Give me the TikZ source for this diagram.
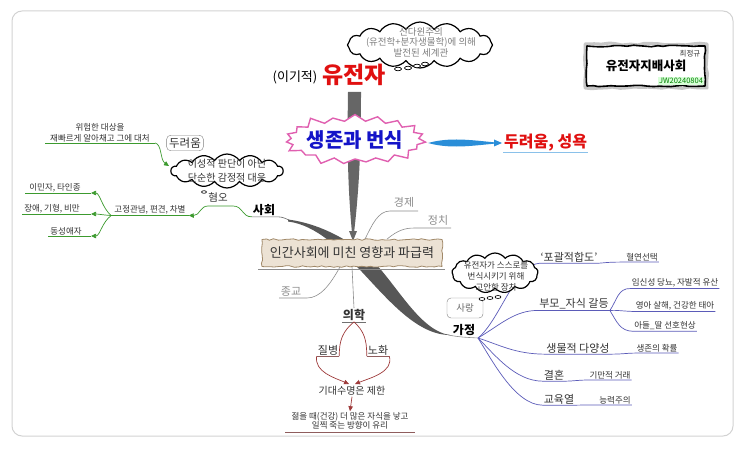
\documentclass[tikz,border=0pt]{standalone}
\usepackage{fontspec}
\setmainfont{Noto Sans CJK KR}
\usetikzlibrary{shapes.symbols,arrows.meta,decorations.pathmorphing}

\definecolor{txt}{HTML}{333333}
\definecolor{lgray}{HTML}{8C8C8C}
\definecolor{trunkgray}{HTML}{666666}
\definecolor{leaf}{HTML}{3C9A2E}
\definecolor{slate}{HTML}{5B5BB8}
\definecolor{wine}{HTML}{9E3A3A}
\definecolor{burst}{HTML}{E060B0}
\definecolor{parch}{HTML}{ECE2D4}
\definecolor{parchedge}{HTML}{A08868}
\definecolor{sky}{HTML}{2A8ED8}
\definecolor{genered}{HTML}{E01010}
\definecolor{coreblue}{HTML}{1414C8}

\tikzset{
  fnote/.style={font=\fontsize{8.5}{10.5}\selectfont},
  fitem/.style={font=\fontsize{10}{12}\selectfont},
  fsub/.style={font=\fontsize{11}{13}\selectfont},
  ftopic/.style={font=\fontsize{12}{14}\selectfont\bfseries},
  puff/.style={cloud, cloud puffs=#1, cloud puff arc=110, draw=black,
    line width=1.2pt, fill=white, inner sep=0pt},
  callout/.style={draw=gray, rounded corners=4pt, fill=white, inner sep=2.5pt},
  leafc/.style={draw=leaf, line width=0.7pt},
  famc/.style={draw=slate, line width=0.7pt},
  medc/.style={draw=wine, line width=0.7pt},
  grayc/.style={draw=lgray, line width=0.6pt},
  arrowhd/.style={-{Triangle[length=5pt,width=4.5pt]}},
}

\begin{document}
\begin{tikzpicture}[x=1pt,y=-1pt, every node/.style={inner sep=1pt, text=txt}]
  \useasboundingbox (0,0) rectangle (743,454);

  % frame
  \draw[gray!35, line width=1pt, rounded corners=10pt] (12,11) rectangle (733,436);

  % title box
  \draw[gray!45, line width=3pt, line join=round, decorate,
    decoration={random steps, segment length=7pt, amplitude=1pt}] (585,44) rectangle (707,88);
  \draw[line width=1.6pt, line join=round, decorate,
    decoration={random steps, segment length=6pt, amplitude=0.8pt}] (587,46) rectangle (705,86);
  \node[font=\fontsize{7.5}{9}\selectfont] (author) at (690,54) {최정규};
  \node[font=\fontsize{12.5}{14}\selectfont\bfseries, text=black] (brand) at (646,66) {유전자지배사회};
  \node[font=\fontsize{7.5}{9}\selectfont, text=green!50!black, fill=green!15] (stamp) at (681,81) {JW20240804};

  % top cloud
  \node[puff=16, minimum width=145pt, minimum height=46pt] (neocloud) at (420,45) {};
  \node[font=\fontsize{9.5}{10.5}\selectfont, text=gray, align=center] (neo) at (421,42)
    {신다윈주의\\(유전학+분자생물학)에 의해\\발전된 세계관};
  \foreach \cx/\cy in {398/69, 408/68, 417/66, 425/64}
    \draw[fill=white, line width=0.7pt] (\cx,\cy) ellipse [x radius=3.5, y radius=1.8];

  % gene
  \node[font=\fontsize{13}{15}\selectfont, text=black] (selfish) at (295,77) {(이기적)};
  \node[font=\fontsize{23}{25}\selectfont\bfseries, text=genered] (gene) at (354,75) {유전자};

  % spindle gene -> impact
  \fill[trunkgray] (348,92) -- (361,92) .. controls (361,150) and (359,190) .. (354,233)
    -- (352,233) .. controls (348,190) and (347,150) .. (348,92) -- cycle;
  \fill[trunkgray] (349,231) -- (357,231) -- (353,241) -- cycle;

  % survival and reproduction
  \node[starburst, starburst points=19, starburst point height=9pt,
    draw=burst, line width=1.4pt, fill=white, minimum width=146pt, minimum height=56pt,
    inner sep=0pt] (corestar) at (355,140) {};
  \node[font=\fontsize{20}{22}\selectfont\bfseries, text=coreblue] (core) at (corestar.center) {생존과 번식};

  % blue arrow
  \fill[sky] (428,143) .. controls (450,137) and (470,140) .. (496,142.5)
    -- (496,143.5) .. controls (470,146) and (450,149) .. (428,143) -- cycle;
  \fill[sky] (494,139.5) -- (502,143) -- (494,146.5) -- cycle;
  \node[font=\fontsize{16}{18}\selectfont\bfseries, text=genered, anchor=west] (desire) at (503,143) {두려움, 성욕};
  \draw[sky!55, line width=1.2pt] (desire.south west) -- (desire.south east);

  % society -- family stroke
  \fill[trunkgray!85!black] (288,219.5) .. controls (315,223) and (345,236) .. (372,260)
    .. controls (397,285) and (420,331) .. (450,335)
    .. controls (418,335) and (390,302) .. (362,272)
    .. controls (340,249) and (316,225) .. (288,221.5) -- cycle;

  % impact node
  \node[draw=parchedge, fill=parch, line width=0.8pt, decorate,
    decoration={random steps, segment length=4pt, amplitude=0.8pt},
    minimum width=180pt, minimum height=27pt, font=\fontsize{13}{15}\selectfont] (impact) at (352,253)
    {인간사회에 미친 영향과 파급력};
  \draw[grayc] (258,269) -- (445,269);

  % economy, politics, religion
  \node[fsub, text=lgray] (econ) at (404,202) {경제};
  \node[fsub, text=lgray] (pol) at (438,220) {정치};
  \node[fsub, text=lgray] (relig) at (291,292) {종교};
  \draw[grayc] ([xshift=13pt]impact.north) .. controls (372,225) and (378,211) .. (390,211) -- (418,211);
  \draw[grayc] ([xshift=35pt]impact.north) .. controls (398,230) and (405,228) .. (415,228) -- (451,228);
  \draw[grayc] ([xshift=-12pt]impact.south) .. controls (330,285) and (320,298) .. (307,298) -- (279,298);

  % medicine
  \node[ftopic] (medic) at (354,315) {의학};
  \draw[grayc] (impact.south) -- (medic.north);
  \draw[txt!70, line width=0.6pt] (medic.south west) -- (medic.south east);
  \node[fsub] (disease) at (328,350) {질병};
  \node[fsub] (aging) at (378,350) {노화};
  \draw[medc] (medic.south) .. controls (343,331) and (339,340) .. (disease.south east);
  \draw[medc] (medic.south) .. controls (364,331) and (367,340) .. (aging.south west);
  \draw[wine!50!gray, line width=0.6pt] (disease.south west) -- (disease.south east);
  \draw[wine!50!gray, line width=0.6pt] (aging.south west) -- (aging.south east);
  \node[fitem] (life) at (352,391) {기대수명은 제한};
  \draw[medc, arrowhd] (disease.south west) .. controls (314,372) and (335,378) .. (349,384);
  \draw[medc, arrowhd] (aging.south east) .. controls (394,372) and (370,378) .. (355,384);
  \node[align=center, font=\fontsize{8.5}{9.5}\selectfont] (young) at (350,421)
    {젊을 때(건강) 더 많은 자식을 낳고\\일찍 죽는 방향이 유리};
  \draw[medc, arrowhd] (life.south) -- (young.north);
  \draw[wine!50!gray, line width=0.8pt] (285,432) -- (415,432);

  % left: fear
  \node[fnote, align=center] (danger) at (100,133) {위험한 대상을\\재빠르게 알아채고 그에 대처};
  \draw[leafc] (45,143) -- (155,143);
  \coordinate (fearin) at (169,166);
  \draw[leafc, arrowhd] (155,143) .. controls (162,144) and (160,160) .. (fearin);
  \node[callout, font=\fontsize{11.5}{13}\selectfont] (fear) at (185,143) {두려움};
  \node[puff=14, minimum width=112pt, minimum height=34pt] (instinctcloud) at (227,171) {};
  \node[align=center, font=\fontsize{10}{14}\selectfont] (instinct) at (instinctcloud.center)
    {이성적 판단이 아닌\\단순한 감정적 대응};
  \draw[fill=white, line width=0.6pt] (204,192) ellipse [x radius=2.5, y radius=1.3];

  % society
  \node[ftopic, text=black] (society) at (264,210) {사회};
  \node[font=\fontsize{10.5}{12}\selectfont] (hate) at (218,197) {혐오};
  \draw[trunkgray, line width=0.6pt] (society.south west) -- (society.south east) .. controls (282,217) .. (289,220);
  \node[fnote, inner xsep=3pt] (bias) at (150,210) {고정관념, 편견, 차별};
  \draw[leafc, arrowhd] (society.south west) .. controls (242,217) and (243,206) .. (233,206) -- (208,206)
    .. controls (200,206) and (200,215.5) .. (bias.south east);
  \draw[leafc] (bias.south west) -- (bias.south east);
  \node[fnote] (immig) at (55,188) {이민자, 타인종};
  \node[fnote] (disab) at (52,209) {장애, 기형, 비만};
  \node[fnote] (homo) at (66,231) {동성애자};
  \coordinate (immigtip) at (91,193);
  \coordinate (disabtip) at (91,214);
  \coordinate (homotip) at (91,236);
  \draw[leafc] (immigtip) -- (25,193);
  \draw[leafc] (disabtip) -- (22,214);
  \draw[leafc] (homotip) -- (48,236);
  \draw[leafc, arrowhd] (bias.south west) .. controls (102,208) and (100,193) .. (immigtip);
  \draw[leafc, arrowhd] (bias.south west) .. controls (103,215) and (98,214) .. (disabtip);
  \draw[leafc, arrowhd] (bias.south west) .. controls (102,222) and (100,236) .. (homotip);

  % family
  \node[ftopic, text=black] (family) at (464,330) {가정};
  \coordinate (famroot) at (478,338);
  \draw[grayc] (448,335) .. controls (460,337) .. (famroot);
  \node[fsub] (fitness) at (569,257) {‘포괄적합도’};
  \node[fnote] (kin) at (642,257) {혈연선택};
  \draw[famc] (famroot) .. controls (500,320) and (515,265) .. (fitness.south west) -- (fitness.south east)
    .. controls (605,263) and (605,262) .. (kin.south west) -- (kin.south east);

  \node[callout, font=\fontsize{9.5}{11}\selectfont, text=gray!80!black,
    minimum width=36pt, minimum height=20pt] (love) at (465,308) {사랑};
  \node[puff=13, minimum width=86pt, minimum height=40pt] (devicecloud) at (495,273) {};
  \node[align=center, font=\fontsize{8.5}{11}\selectfont] (device) at (496,276)
    {유전자가 스스로를\\번식시키기 위해\\고안한 장치};
  \foreach \cx/\cy in {482/299, 490/298, 498/297}
    \draw[fill=white, line width=0.6pt] (\cx,\cy) ellipse [x radius=3, y radius=1.5];

  \node[fsub] (conflict) at (574,304) {부모\_자식 갈등};
  \node[fnote] (preg) at (675,283) {임신성 당뇨, 자발적 유산};
  \node[fnote] (infant) at (675,306) {영아 살해, 건강한 태아};
  \node[fnote] (son) at (665,326) {아들\_딸 선호현상};
  \draw[famc] (famroot) .. controls (500,325) and (515,310) .. (conflict.south west) -- (conflict.south east);
  \draw[famc] (conflict.south east) .. controls (617,300) and (618,288) .. (preg.south west) -- (preg.south east);
  \draw[famc] (conflict.south east) .. controls (618,310) and (620,311) .. (infant.south west) -- (infant.south east);
  \draw[famc] (conflict.south east) .. controls (617,322) and (620,331) .. (son.south west) -- (son.south east);

  \node[fsub] (bio) at (578,348) {생물적 다양성};
  \node[fnote] (prob) at (657,348) {생존의 확률};
  \draw[famc] (famroot) .. controls (500,345) and (515,354) .. (bio.south west) -- (bio.south east)
    .. controls (625,354) and (628,353) .. (prob.south west) -- (prob.south east);

  \node[fsub] (marry) at (554,375) {결혼};
  \node[fnote] (deceit) at (610,375) {기만적 거래};
  \draw[famc] (famroot) .. controls (495,355) and (515,381) .. (marry.south west) -- (marry.south east)
    .. controls (575,381) and (578,380) .. (deceit.south west) -- (deceit.south east);

  \node[fsub] (edu) at (559,399) {교육열};
  \node[fnote] (merit) at (615,400) {능력주의};
  \draw[famc] (famroot) .. controls (492,360) and (515,405) .. (edu.south west) -- (edu.south east)
    .. controls (585,405) and (588,405) .. (merit.south west) -- (merit.south east);
\end{tikzpicture}
\end{document}
